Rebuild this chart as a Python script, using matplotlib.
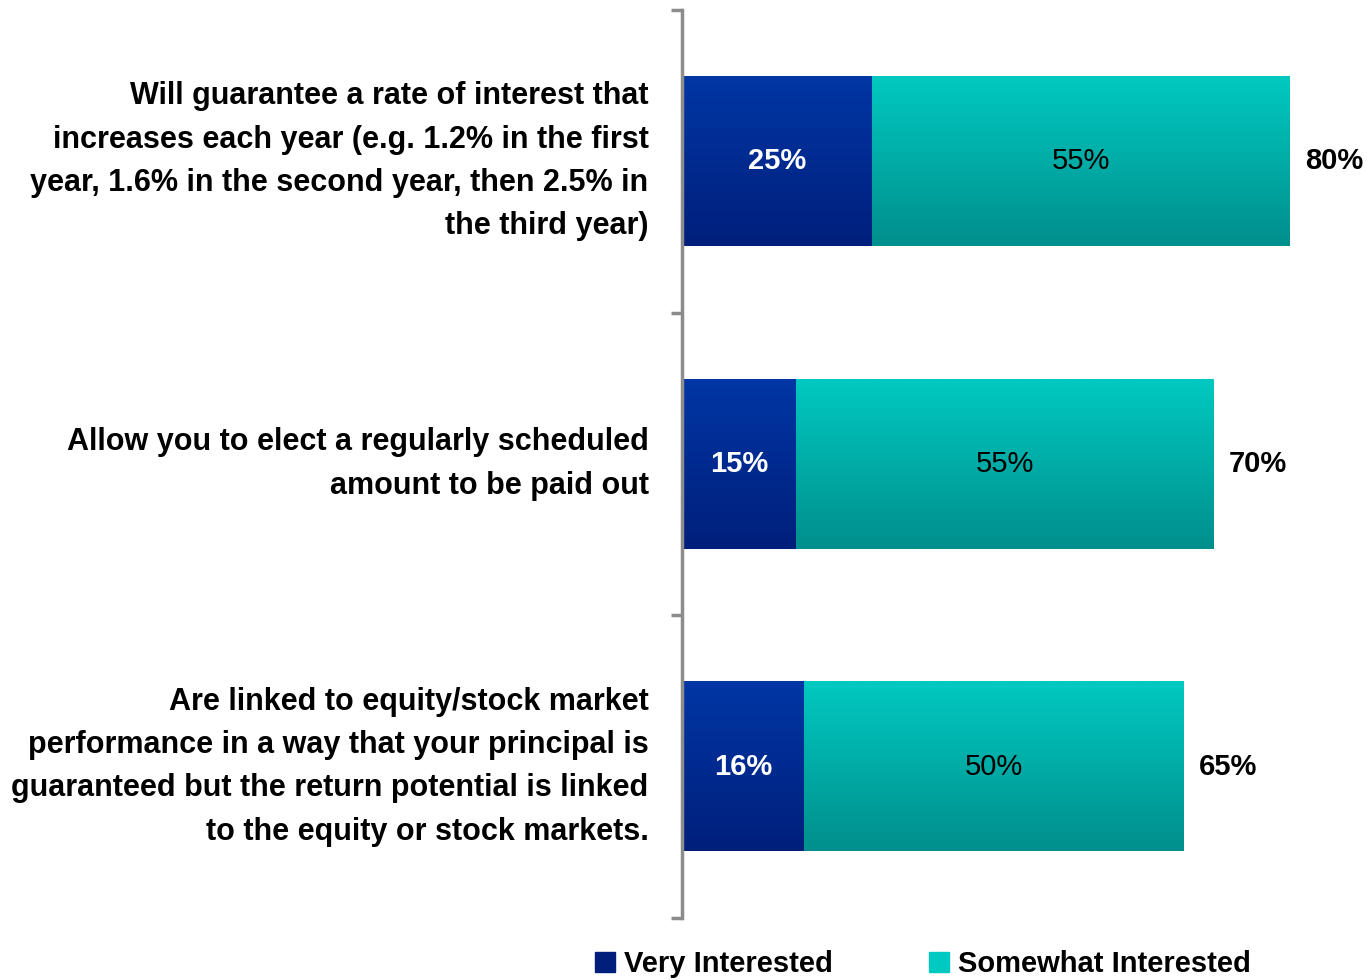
import matplotlib.pyplot as plt
import numpy as np
from matplotlib.colors import LinearSegmentedColormap
from matplotlib.patches import Patch

# interest in product features
categories = [
    "Will guarantee a rate of interest that\nincreases each year (e.g. 1.2% in the first\nyear, 1.6% in the second year, then 2.5% in\nthe third year)",
    "Allow you to elect a regularly scheduled\namount to be paid out",
    "Are linked to equity/stock market\nperformance in a way that your principal is\nguaranteed but the return potential is linked\nto the equity or stock markets.",
]
very = [25, 15, 16]
somewhat = [55, 55, 50]
totals = [80, 70, 65]

font = ["Liberation Sans Narrow", "Liberation Sans", "DejaVu Sans"]
blue_top, blue_bot = "#0036a4", "#001f7c"
teal_top, teal_bot = "#00c9c1", "#008f8c"

fig = plt.figure(figsize=(13.69, 9.8), dpi=100)
ax = fig.add_axes([682 / 1369, 62 / 980, 1 - 682 / 1369, 908 / 980])

y = np.arange(len(categories))
b1 = ax.barh(y, very, height=0.56, color=blue_top)
b2 = ax.barh(y, somewhat, left=very, height=0.56, color=teal_top)

# gradient fill, top to bottom
def shade(bars, c1, c2):
    cmap = LinearSegmentedColormap.from_list("g", [c1, c2])
    grad = np.linspace(0, 1, 100).reshape(-1, 1)
    for p in bars:
        x0, y0 = p.get_x(), p.get_y()
        w, h = p.get_width(), p.get_height()
        ax.imshow(grad, cmap=cmap, aspect="auto", extent=[x0, x0 + w, y0 + h, y0], zorder=2)
        p.set_visible(False)

ax.set_xlim(0, 687 / 7.6)
ax.set_ylim(2.5, -0.5)
shade(b1, blue_top, blue_bot)
shade(b2, teal_top, teal_bot)

for i in range(len(categories)):
    ax.text(very[i] / 2, y[i], f"{very[i]}%", color="white", ha="center", va="center",
            fontsize=21, fontweight="bold", family=font, zorder=3)
    ax.text(very[i] + somewhat[i] / 2, y[i], f"{somewhat[i]}%", color="black", ha="center",
            va="center", fontsize=21, family=font, zorder=3)
    ax.text(very[i] + somewhat[i] + 2, y[i], f"{totals[i]}%", color="black", ha="left",
            va="center", fontsize=21, fontweight="bold", family=font, clip_on=False)
    ax.text(-4.4, y[i], categories[i], ha="right", va="center", fontsize=22,
            fontweight="bold", family=font, linespacing=1.58)

for s in ["top", "right", "bottom"]:
    ax.spines[s].set_visible(False)
ax.spines["left"].set_color("#8c8c8c")
ax.spines["left"].set_linewidth(2.5)
ax.set_xticks([])
ax.set_yticks([-0.5, 0.5, 1.5, 2.5])
ax.set_yticklabels([])
ax.tick_params(axis="y", length=8, width=2.5, color="#8c8c8c", direction="out")

handles = [Patch(color=blue_bot), Patch(color=teal_top)]
fig.legend(handles, ["Very Interested", "Somewhat Interested"], loc="lower center",
           bbox_to_anchor=(0.674, -0.025), ncol=2, frameon=False, handlelength=0.7,
           handleheight=0.7, handletextpad=0.3, columnspacing=3.3,
           prop={"family": font, "weight": "bold", "size": 21})

fig.savefig("out.png", dpi=100)
